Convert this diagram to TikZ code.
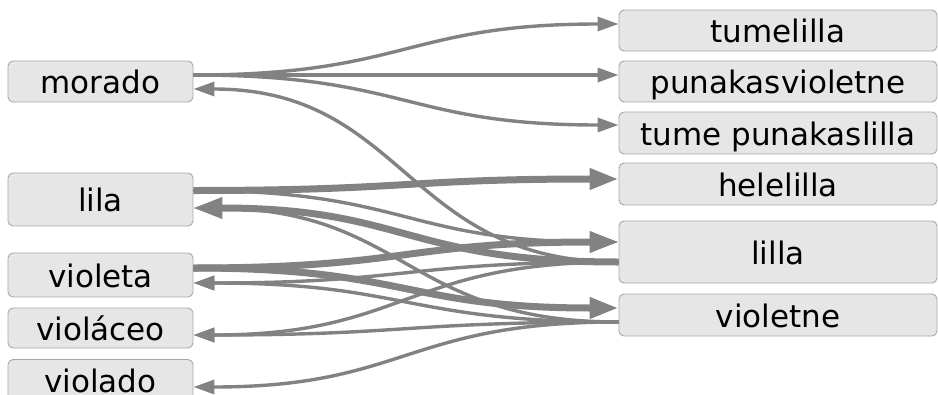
\documentclass[tikz,border=0pt]{standalone}
\usepackage{fontspec}
\setmainfont{DejaVu Sans}
\usetikzlibrary{arrows.meta}
\definecolor{linkgray}{HTML}{828282}
\definecolor{boxfill}{HTML}{E6E6E6}
\definecolor{boxline}{HTML}{A8A8A8}
\begin{document}
\begin{tikzpicture}[
  x=1pt, y=-1pt,
  term/.style={draw=boxline, fill=boxfill, rounded corners=5pt, line width=0.9pt,
    inner sep=0pt, text height=24pt, text depth=0pt, font=\fontsize{31}{36}\selectfont},
  src/.style={term, minimum width=185pt},
  tgt/.style={term, minimum width=318pt},
  link/.style={draw=linkgray, line width=3.4pt, -{Triangle[length=21pt, width=14pt]}},
  heavy/.style={link, line width=7pt, -{Triangle[length=29pt, width=20pt]}}
]
\useasboundingbox (0,0) rectangle (938,394);

\node[src, minimum height=41pt] (morado) at (100.5,81.5) {morado};
\node[src, minimum height=53pt] (lila) at (100.5,199.5) {lila};
\node[src, minimum height=44pt] (violeta) at (100.5,275) {violeta};
\node[src, minimum height=40pt] (violaceo) at (100.5,328) {violáceo};
\node[src, minimum height=41pt] (violado) at (100.5,380) {violado};

\node[tgt, minimum height=41pt] (tumelilla) at (778,30.5) {tumelilla};
\node[tgt, minimum height=41pt] (punakasvioletne) at (778,81.5) {punakasvioletne};
\node[tgt, minimum height=42pt] (tumepunakaslilla) at (778,133) {tume punakaslilla};
\node[tgt, minimum height=42pt] (helelilla) at (778,184) {helelilla};
\node[tgt, minimum height=62pt] (lilla) at (778,252) {lilla};
\node[tgt, minimum height=42pt] (violetne) at (778,315) {violetne};

% left to right
\draw[link] ([yshift=6.5pt]morado.east) .. controls +(213,0) and +(-213,0) .. ([yshift=6.5pt]tumelilla.west);
\draw[link] ([yshift=6.5pt]morado.east) .. controls +(213,0) and +(-213,0) .. ([yshift=6.5pt]punakasvioletne.west);
\draw[link] ([yshift=6.5pt]morado.east) .. controls +(213,0) and +(-213,0) .. ([yshift=8pt]tumepunakaslilla.west);
\draw[heavy] ([yshift=9pt]lila.east) .. controls +(213,0) and +(-213,0) .. ([yshift=5pt]helelilla.west);
\draw[link] ([yshift=9pt]lila.east) .. controls +(213,0) and +(-213,0) .. ([yshift=10pt]lilla.west);
\draw[heavy] ([yshift=7pt]violeta.east) .. controls +(213,0) and +(-213,0) .. ([yshift=10pt]lilla.west);
\draw[heavy] ([yshift=7pt]violeta.east) .. controls +(213,0) and +(-213,0) .. ([yshift=7pt]violetne.west);

% right to left
\draw[link] ([yshift=-10pt]lilla.west) .. controls +(-213,0) and +(213,0) .. ([yshift=-7.5pt]morado.east);
\draw[heavy] ([yshift=-10pt]lilla.west) .. controls +(-213,0) and +(213,0) .. ([yshift=-8.5pt]lila.east);
\draw[link] ([yshift=-10pt]lilla.west) .. controls +(-213,0) and +(213,0) .. ([yshift=-8pt]violeta.east);
\draw[link] ([yshift=-10pt]lilla.west) .. controls +(-213,0) and +(213,0) .. ([yshift=-7pt]violaceo.east);
\draw[link] ([yshift=-7pt]violetne.west) .. controls +(-213,0) and +(213,0) .. ([yshift=-8.5pt]lila.east);
\draw[link] ([yshift=-7pt]violetne.west) .. controls +(-213,0) and +(213,0) .. ([yshift=-8pt]violeta.east);
\draw[link] ([yshift=-7pt]violetne.west) .. controls +(-213,0) and +(213,0) .. ([yshift=-7pt]violaceo.east);
\draw[link] ([yshift=-7pt]violetne.west) .. controls +(-213,0) and +(213,0) .. ([yshift=-7pt]violado.east);
\end{tikzpicture}
\end{document}
